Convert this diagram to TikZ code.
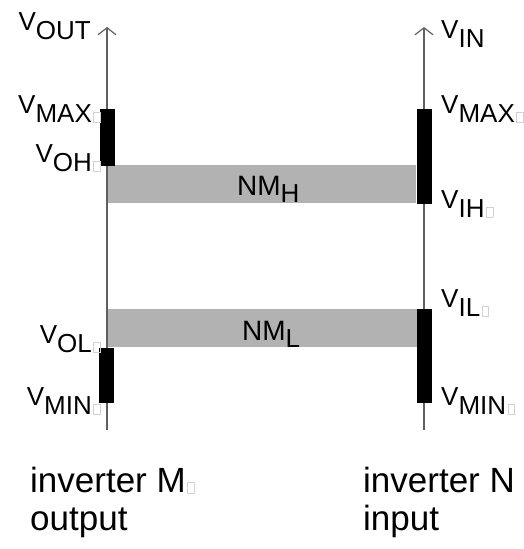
\documentclass[tikz,border=0pt]{standalone}
\usepackage{fontspec}
\setmainfont{Liberation Sans}
\usepackage{tikz}
\usetikzlibrary{positioning,arrows.meta}
\newcommand{\nogl}{\hspace{1.5pt}{\color{gray!35}\fboxsep=0pt\fboxrule=0.7pt\fbox{\rule{0pt}{9.5pt}\hspace{6pt}}}}
\newcommand{\lsub}[1]{\raisebox{-9pt}{\fontsize{26}{26}\selectfont #1}}
\newcommand{\nsub}[1]{\raisebox{-7pt}{\fontsize{26}{26}\selectfont #1}}

\begin{document}
\begin{tikzpicture}[
  x=1pt, y=-1pt,
  lvl/.style  ={inner sep=0pt, font=\fontsize{26}{26}\selectfont},
  band/.style ={fill=gray!60, inner sep=0pt, minimum width=309pt,
                minimum height=38pt},
  nm/.style   ={inner sep=0pt, anchor=base west, font=\fontsize{28}{28}\selectfont},
  bar/.style  ={fill=black, inner sep=0pt, minimum width=15pt},
  axis/.style ={-{Straight Barb[length=7pt,width=18pt,line width=1.2pt]},
                line width=1.5pt, gray!75!black},
  caption/.style={inner sep=0pt, align=left, anchor=north west,
                font=\fontsize{35}{38}\selectfont}
]
\useasboundingbox (0,0) rectangle (524,549);

% noise margin bands
\node[band] (nmh) at (261.5,183.5) {};
\node[band] (nml) at (262,328) {};
\node[nm] (nmhtxt) at (237,195) {NM\nsub{H}};
\node[nm] (nmltxt) at (242,340) {NM\nsub{L}};

% axes
\coordinate (outlo) at (107,430);
\coordinate (outhi) at (107,27);
\coordinate (inlo)  at (424,430);
\coordinate (inhi)  at (424,27);
\draw[axis] (outlo) -- (outhi);
\draw[axis] (inlo) -- (inhi);

% valid level ranges
\node[bar, minimum height=57pt] (ohi) at (107.5,137.5) {};
\node[bar, minimum height=55pt] (olo) at (106,375.5) {};
\node[bar, minimum height=95pt] (ihi) at (424.5,156.5) {};
\node[bar, minimum height=94pt] (ilo) at (424.5,356) {};

% output levels
\node[lvl, anchor=base east] (vout)  at (91,30)   {V\lsub{OUT}};
\node[lvl, anchor=base east] (vmaxo) at (101,113) {V\lsub{MAX\nogl}};
\node[lvl, anchor=base east] (voh)   at (101,162) {V\lsub{OH\nogl}};
\node[lvl, anchor=base east] (vol)   at (101,343) {V\lsub{OL\nogl}};
\node[lvl, anchor=base east] (vmino) at (101,405) {V\lsub{MIN\nogl}};

% input levels
\node[lvl, anchor=base west] (vin)   at (441,38)  {V\lsub{IN}};
\node[lvl, anchor=base west] (vmaxi) at (441,113) {V\lsub{MAX\nogl}};
\node[lvl, anchor=base west] (vih)   at (441,208) {V\lsub{IH\nogl}};
\node[lvl, anchor=base west] (vil)   at (441,307) {V\lsub{IL\nogl}};
\node[lvl, anchor=base west] (vmini) at (441,405) {V\lsub{MIN\nogl}};

% captions
\node[caption] (capm) at (30,467)  {inverter M\nogl\\output};
\node[caption] (capn) at (363,467) {inverter N\\input};
\end{tikzpicture}
\end{document}
